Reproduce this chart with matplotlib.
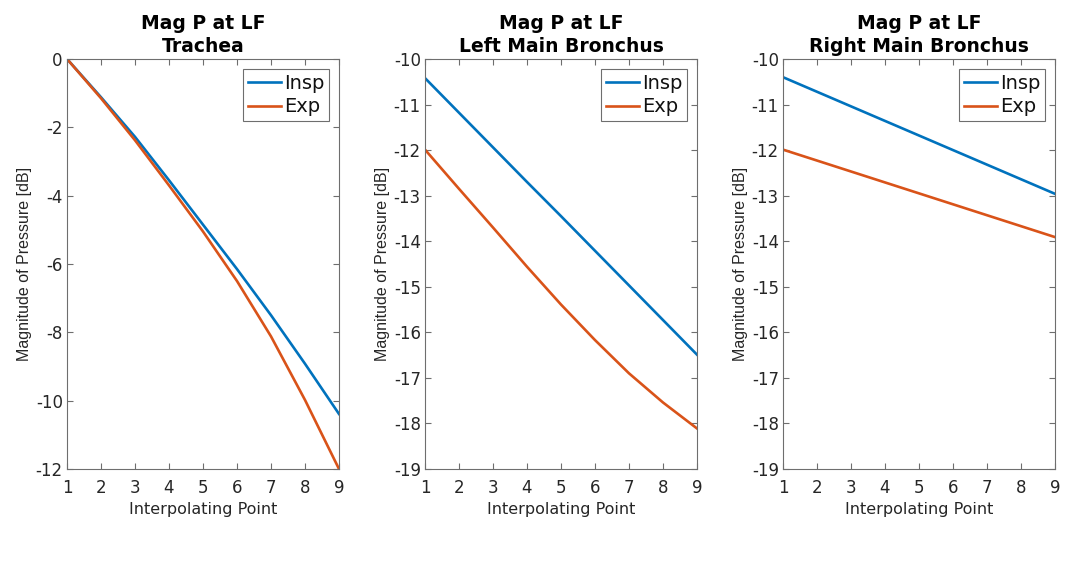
import matplotlib.pyplot as plt

plt.rcParams['font.family'] = ['DejaVu Sans']
plt.rcParams['axes.unicode_minus'] = False

# interpolating points
x = [1, 2, 3, 4, 5, 6, 7, 8, 9]

# trachea
trachea_insp = [0, -1.12, -2.28, -3.55, -4.85, -6.15, -7.5, -8.92, -10.39]
trachea_exp = [0, -1.15, -2.38, -3.7, -5.05, -6.5, -8.12, -9.98, -12.0]

# left main bronchus
lmb_insp = [-10.42, -11.18, -11.94, -12.7, -13.45, -14.21, -14.97, -15.73, -16.49]
lmb_exp = [-11.99, -12.85, -13.70, -14.56, -15.39, -16.17, -16.90, -17.54, -18.11]

# right main bronchus
rmb_insp = [-10.4, -10.72, -11.04, -11.36, -11.68, -12.0, -12.32, -12.64, -12.96]
rmb_exp = [-11.99, -12.23, -12.47, -12.71, -12.95, -13.19, -13.43, -13.67, -13.91]

panels = [
    ('Trachea', trachea_insp, trachea_exp, (-12, 0), [-12, -10, -8, -6, -4, -2, 0]),
    ('Left Main Bronchus', lmb_insp, lmb_exp, (-19, -10), list(range(-19, -9))),
    ('Right Main Bronchus', rmb_insp, rmb_exp, (-19, -10), list(range(-19, -9))),
]
lefts = [0.0628, 0.3983, 0.7338]

blue = '#0072BD'
orange = '#D95319'
dark = '#262626'
edge = '#6e6e6e'

fig = plt.figure(figsize=(10.67, 5.86), dpi=100)

for left, (name, insp, exp, ylim, yticks) in zip(lefts, panels):
    ax = fig.add_axes([left, 0.1997, 0.2549, 0.6997])
    ax.plot(x, insp, color=blue, lw=1.9, label='Insp')
    ax.plot(x, exp, color=orange, lw=1.9, label='Exp')
    ax.set_xlim(1, 9)
    ax.set_ylim(*ylim)
    ax.set_xticks(x)
    ax.set_yticks(yticks)
    ax.tick_params(direction='in', top=True, right=True, labelsize=12,
                   labelcolor=dark, color=edge, length=4, width=0.8)
    ax.tick_params(axis='x', pad=7)
    ax.tick_params(axis='y', pad=3)
    for s in ax.spines.values():
        s.set_color(edge)
        s.set_linewidth(0.8)
    ax.set_xlabel('Interpolating Point', fontsize=11.5, color=dark, labelpad=4)
    ax.set_ylabel('Magnitude of Pressure [dB]', fontsize=11.5, color=dark,
                  labelpad=3, family='Liberation Sans')
    ax.set_title('Mag P at LF\n' + name, fontsize=13.5, fontweight='bold',
                 linespacing=1.3, pad=5)
    leg = ax.legend(loc='upper right', fontsize=14, fancybox=False,
                    edgecolor=edge, framealpha=1, borderaxespad=0.5,
                    handlelength=1.7, handletextpad=0.15, borderpad=0.25,
                    labelspacing=0.25)
    leg.get_frame().set_linewidth(0.8)
    for t in leg.get_texts():
        t.set_color('#111111')

fig.savefig('out.png', dpi=100)
